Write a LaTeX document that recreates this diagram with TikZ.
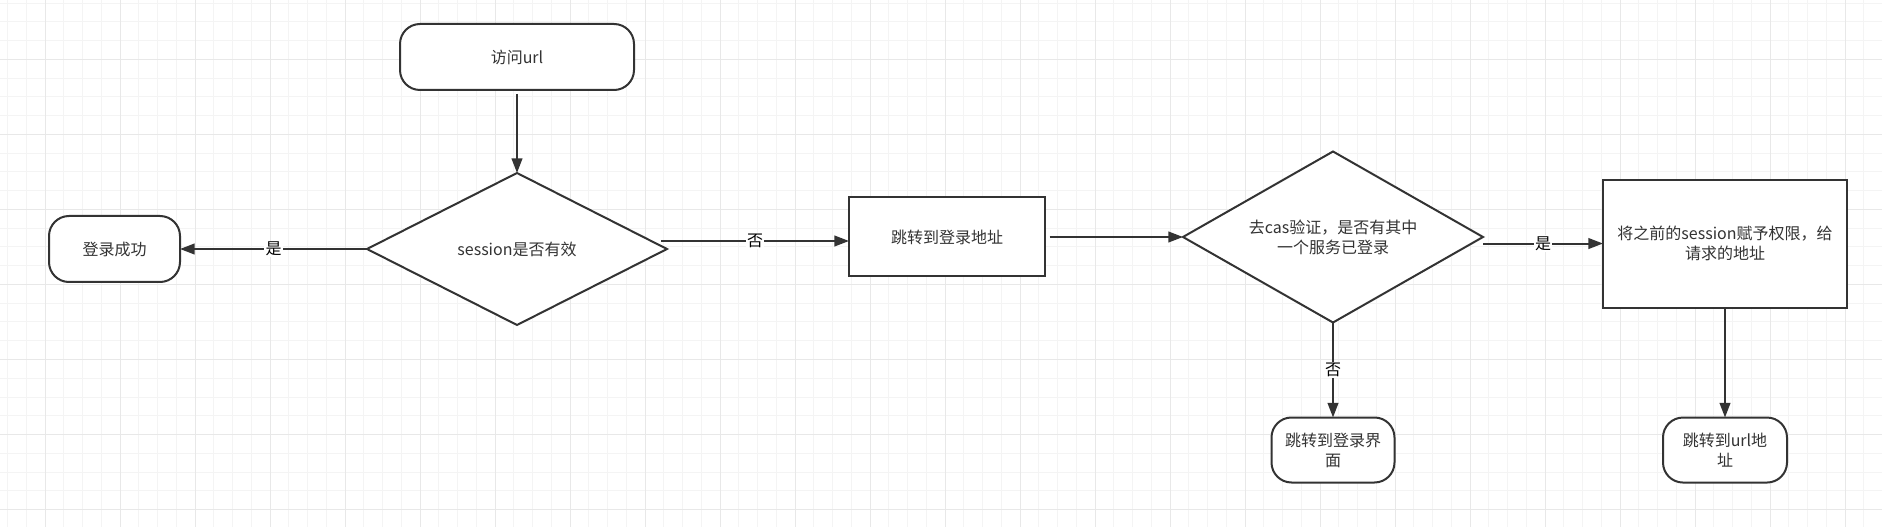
\documentclass[tikz,border=0pt]{standalone}
\usepackage{fontspec}
\newfontfamily\cjk{Noto Sans CJK SC}
\usetikzlibrary{positioning}
\usetikzlibrary{shapes.geometric}
\usetikzlibrary{arrows.meta}
\definecolor{lineC}{HTML}{333333}
\definecolor{txtC}{HTML}{333333}
\definecolor{gridA}{HTML}{F4F4F4}
\definecolor{gridB}{HTML}{E8E8E8}
\tikzstyle{term} = [rectangle, rounded corners=15pt, draw=lineC, line width=1.5pt, fill=white, text=txtC, align=center, inner sep=0pt, outer sep=0pt, font=\cjk\fontsize{12}{15}\selectfont]
\tikzstyle{proc} = [rectangle, draw=lineC, line width=1.5pt, fill=white, text=txtC, align=center, inner sep=0pt, outer sep=0pt, font=\cjk\fontsize{12}{15}\selectfont]
\tikzstyle{decide} = [diamond, aspect=2, draw=lineC, line width=1.5pt, fill=white, text=txtC, align=center, inner sep=0pt, outer sep=0pt, font=\cjk\fontsize{12}{15}\selectfont]
\tikzstyle{flow} = [draw=lineC, line width=1.5pt, -{Triangle[length=11pt,width=8pt]}]
\tikzstyle{lbl} = [fill=white, inner sep=1pt, text=black, font=\cjk\fontsize{12}{15}\selectfont]

\begin{document}
\begin{tikzpicture}[x=0.75pt, y=-0.75pt, gridminor/.style={draw=gridA, line width=0.75pt}, gridmajor/.style={draw=gridB, line width=0.75pt}]
\useasboundingbox (0,0) rectangle (1882,527);
\fill[white] (0,0) rectangle (1882,527);

% Grid
\foreach \gx in {7.5,26.25,...,1882} \draw[gridminor] (\gx,0) -- (\gx,527);
\foreach \gy in {3.25,22,...,527}    \draw[gridminor] (0,\gy) -- (1882,\gy);
\foreach \gx in {45,120,...,1882}    \draw[gridmajor] (\gx,0) -- (\gx,527);
\foreach \gy in {59.5,134.5,...,527} \draw[gridmajor] (0,\gy) -- (1882,\gy);

% Define nodes
\node[term, minimum width=175.5pt, minimum height=49.5pt]                  (start) at (517,57) {访问url};
\node[decide, below = 62.25pt of start, minimum width=225pt, minimum height=114pt]  (check) {session是否有效};
\node[term, left  = 140.25pt of check, minimum width=98.25pt, minimum height=49.5pt] (ok) {登录成功};
\node[proc, right = 136.5pt of check, yshift=9pt, minimum width=147pt, minimum height=59.25pt] (redirect) {跳转到登录地址};
\node[decide, right = 103.5pt of redirect, minimum width=225pt, minimum height=128.25pt] (cas) {去cas验证，是否有其中\\一个服务已登录};
\node[proc, right = 90pt of cas, yshift=-4.9pt, minimum width=183pt, minimum height=96pt] (grant) {将之前的session赋予权限，给\\请求的地址};
\node[term, below = 71.25pt of cas, minimum width=92.25pt, minimum height=48.75pt] (loginpage) {跳转到登录界\\面};
\node[term, below = 82.5pt of grant, minimum width=93pt, minimum height=48.75pt]   (tourl) {跳转到url地\\址};

% Edges
\coordinate (c1) at ([xshift=-4.5pt, yshift=6pt]check.east);
\draw[flow, shorten <=3pt] (start) -- (check);
\draw[flow] (check.west) -- (ok.east) node[lbl, midway] {是};
\draw[flow] (c1) -- (c1 -| redirect.west) node[lbl, midway] {否};
\draw[flow, shorten <=3.5pt] (redirect.east) -- (cas.west);
\draw[flow] (cas.south) -- (loginpage.north) node[lbl, midway] {否};
\draw[flow] (cas.east |- grant.west) -- (grant.west) node[lbl, midway] {是};
\draw[flow] (grant.south) -- (tourl.north);

\end{tikzpicture}
\end{document}
